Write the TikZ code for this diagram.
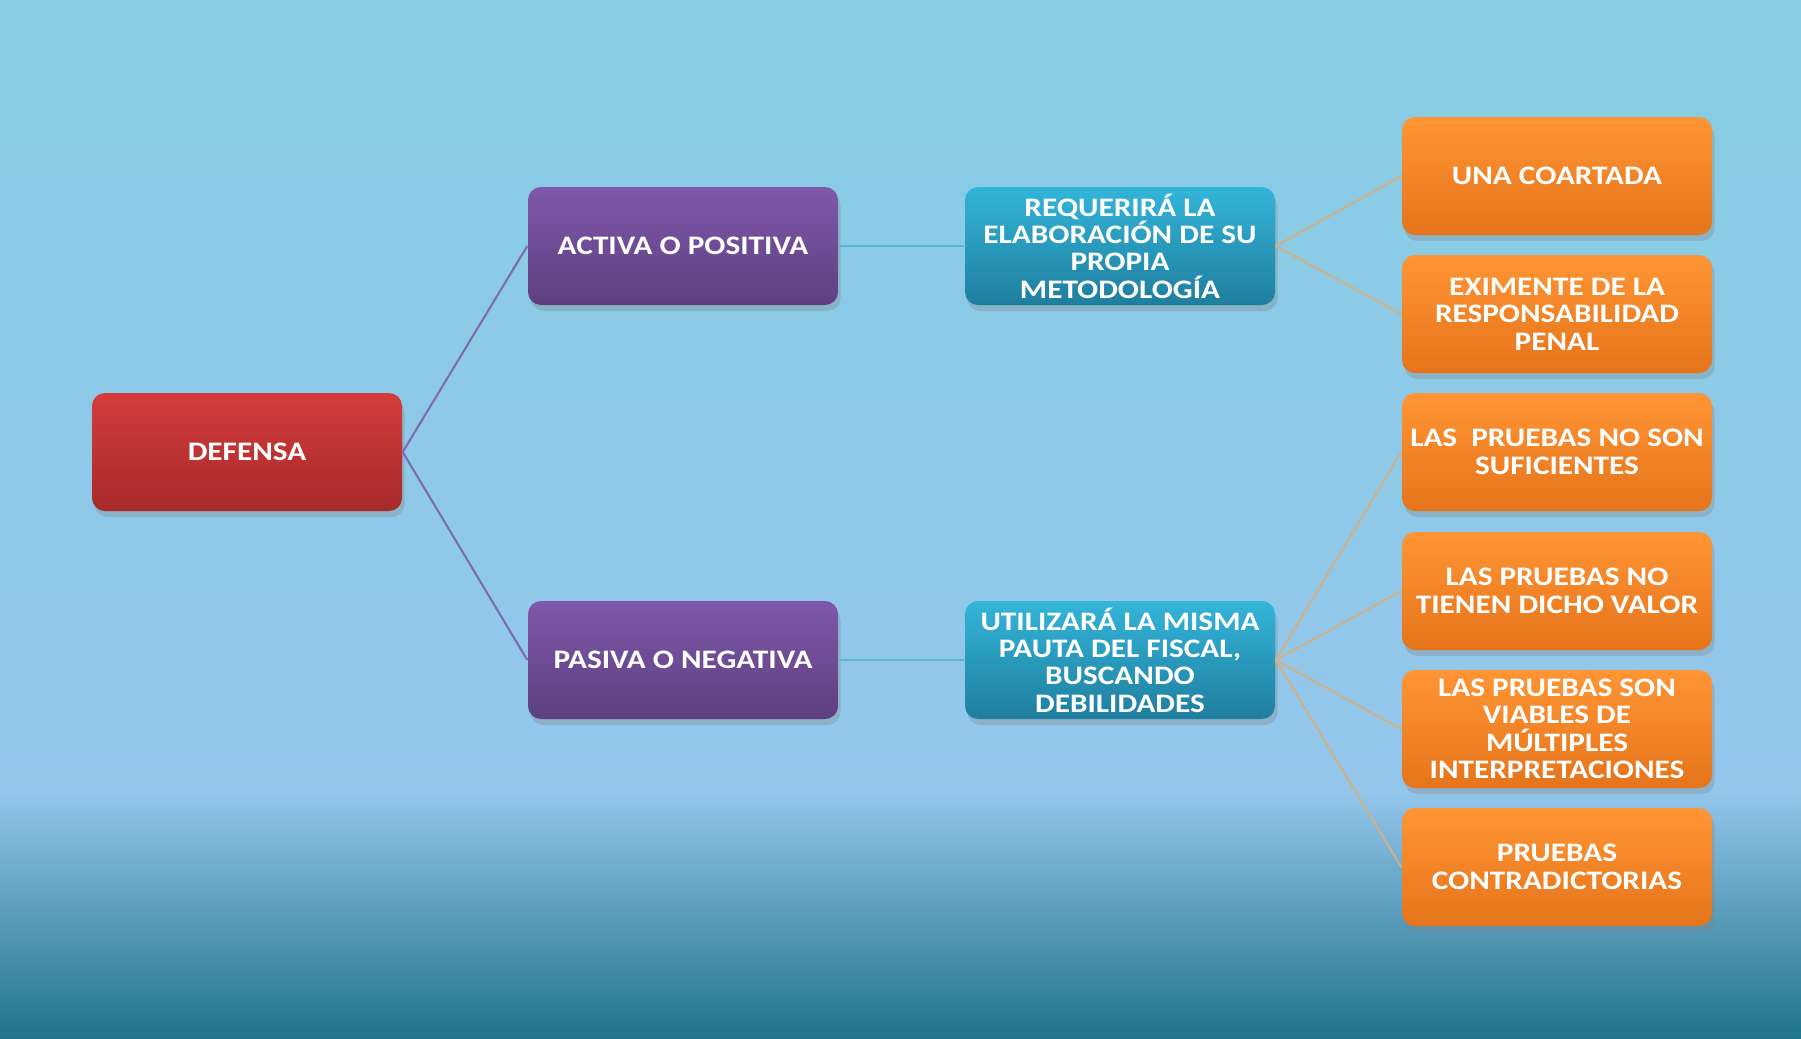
\documentclass[tikz,border=0pt]{standalone}
\usepackage{fontspec}
\setmainfont{Carlito}[FakeStretch=1.17]
\usepackage{xcolor}
\usetikzlibrary{shadows,positioning}

\definecolor{bgTop}{HTML}{86CDE2}
\definecolor{bgMid}{HTML}{94C6EC}
\definecolor{bgBot}{HTML}{21748B}
\definecolor{redTop}{HTML}{D43C3B}
\definecolor{redBot}{HTML}{A72A2B}
\definecolor{purTop}{HTML}{7F58AA}
\definecolor{purBot}{HTML}{5E4080}
\definecolor{tealTop}{HTML}{33B5D9}
\definecolor{tealBot}{HTML}{1F7E9E}
\definecolor{oraTop}{HTML}{FF9534}
\definecolor{oraBot}{HTML}{E5741B}
\definecolor{linePur}{HTML}{7E6CB2}
\definecolor{lineTeal}{HTML}{55B6D6}
\definecolor{lineTan}{HTML}{CBB18C}

\begin{document}
\begin{tikzpicture}[
    box/.style={rectangle, rounded corners=1.3mm, top color=#1Top, bottom color=#1Bot,
      drop shadow={opacity=0.3, shadow xshift=0.25mm, shadow yshift=-0.6mm},
      minimum width=3.1cm, minimum height=1.18cm, inner sep=1pt, align=center,
      text=white, font=\bfseries\fontsize{7.6}{7.8}\selectfont},
    link/.style={line width=0.6pt, draw=#1},
]

% background
\fill[top color=bgTop, bottom color=bgMid] (0,0) rectangle (18.01,-7.9);
\fill[top color=bgMid, bottom color=bgBot] (0,-7.9) rectangle (18.01,-10.38);
\useasboundingbox (0,0) rectangle (18.01,-10.38);

\node[box=red] (def) at (2.47, -4.52) {DEFENSA};

\node[box=pur] (act) at (6.83, -2.46) {ACTIVA O POSITIVA};
\node[box=pur] (pas) at (6.83, -6.60) {PASIVA O NEGATIVA};

\node[box=teal] (req) at (11.20, -2.46) {REQUERIRÁ LA\\ELABORACIÓN DE SU\\PROPIA\\METODOLOGÍA};
\node[box=teal] (uti) at (11.20, -6.60) {UTILIZARÁ LA MISMA\\PAUTA DEL FISCAL,\\BUSCANDO\\DEBILIDADES};

\node[box=ora] (coa) at (15.57, -1.76) {UNA COARTADA};
\node[box=ora] (exi) at (15.57, -3.14) {EXIMENTE DE LA\\RESPONSABILIDAD\\PENAL};
\node[box=ora] (suf) at (15.57, -4.52) {LAS\ \ PRUEBAS NO SON\\SUFICIENTES};
\node[box=ora] (val) at (15.57, -5.91) {LAS PRUEBAS NO\\TIENEN DICHO VALOR};
\node[box=ora] (via) at (15.57, -7.29) {LAS PRUEBAS SON\\VIABLES DE\\MÚLTIPLES\\INTERPRETACIONES};
\node[box=ora] (con) at (15.57, -8.67) {PRUEBAS\\CONTRADICTORIAS};

\draw[link=linePur] (def.east) -- (act.west);
\draw[link=linePur] (def.east) -- (pas.west);
\draw[link=lineTeal] (act.east) -- (req.west);
\draw[link=lineTeal] (pas.east) -- (uti.west);
\foreach \k in {coa,exi}
  \draw[link=lineTan] (req.east) -- (\k.west);
\foreach \k in {suf,val,via,con}
  \draw[link=lineTan] (uti.east) -- (\k.west);

\end{tikzpicture}
\end{document}
